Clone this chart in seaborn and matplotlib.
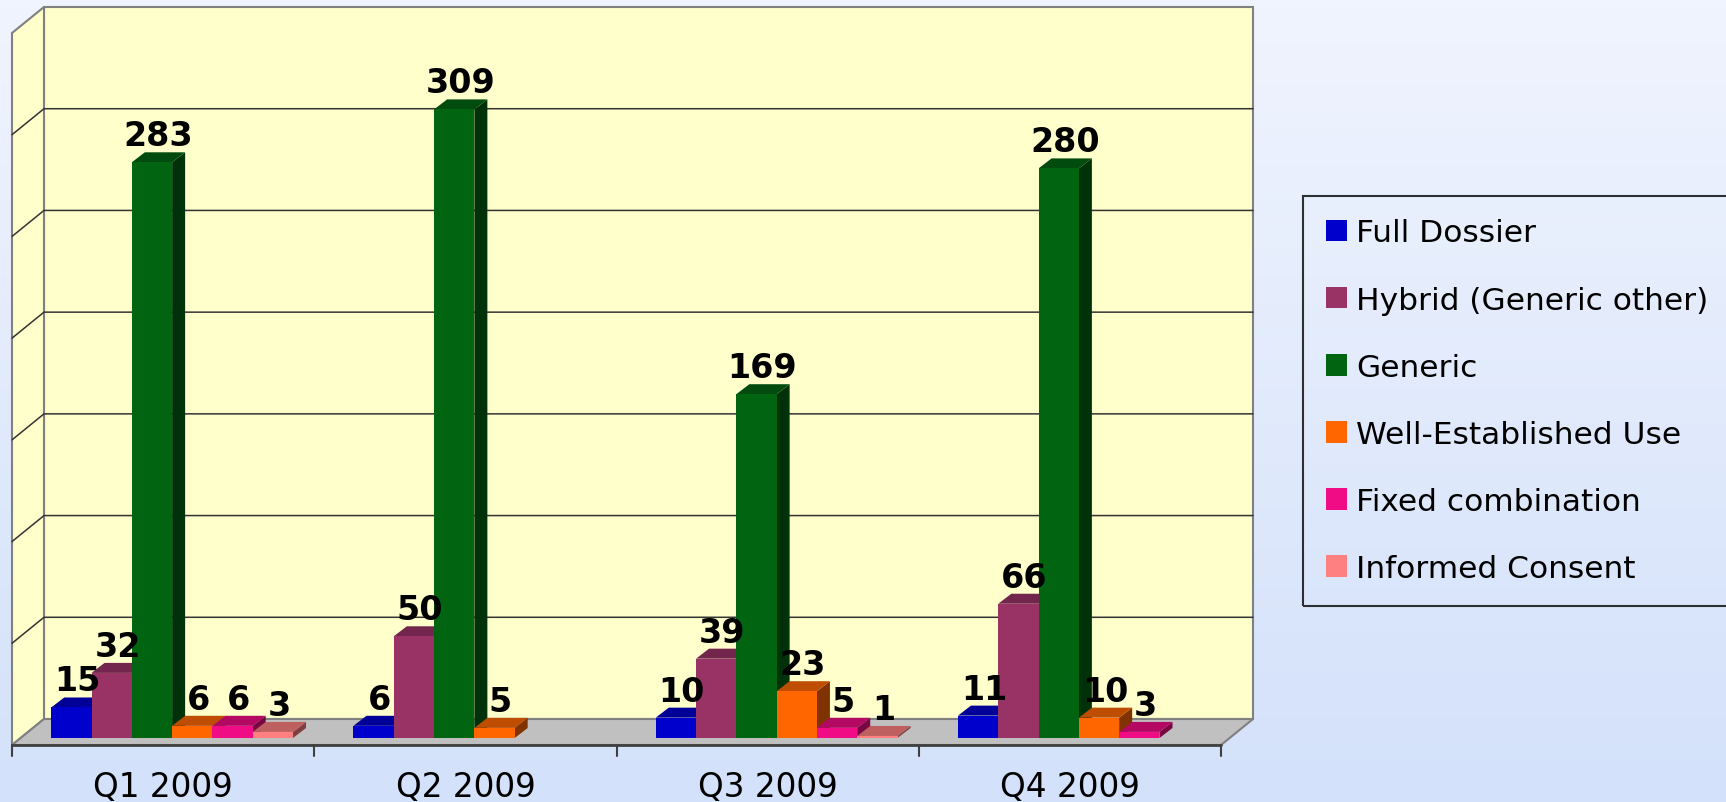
import numpy as np
import pandas as pd
import matplotlib
matplotlib.use("Agg")
import matplotlib.pyplot as plt
import seaborn as sns
from matplotlib.patches import Polygon, Patch
from matplotlib.colors import to_rgb
from matplotlib.transforms import ScaledTranslation

# ---------------- data ----------------
quarters = ["Q1 2009", "Q2 2009", "Q3 2009", "Q4 2009"]
series = ["Full Dossier", "Hybrid (Generic other)", "Generic",
          "Well-Established Use", "Fixed combination", "Informed Consent"]
full_dossier = [15, 6, 10, 11]
hybrid = [32, 50, 39, 66]
generic = [283, 309, 169, 280]
well_established = [6, 5, 23, 10]
fixed_combination = [6, np.nan, 5, 3]
informed_consent = [3, np.nan, 1, np.nan]
colors = ["#0000CC", "#993366", "#006411", "#FF6600", "#F00C84", "#FF8080"]
y_max = 350
grid_step = 50

values = [full_dossier, hybrid, generic, well_established,
          fixed_combination, informed_consent]
rows = []
for s, vals in zip(series, values):
    for q, v in zip(quarters, vals):
        rows.append({"quarter": q, "series": s, "value": v})
df = pd.DataFrame(rows)

# ---------------- figure ----------------
sns.set_theme(style="white")
plt.rcParams['font.family'] = ['DejaVu Sans']
plt.rcParams['text.color'] = 'black'
plt.rcParams['xtick.color'] = 'black'
plt.rcParams['axes.labelcolor'] = 'black'

FW, FH, DPI = 1726, 803, 100
fig = plt.figure(figsize=(FW / DPI, FH / DPI), dpi=DPI)

# background gradient
bg = fig.add_axes([0, 0, 1, 1], zorder=-10)
grad = np.linspace(0, 1, 256)[:, None, None]
c_top = np.array(to_rgb("#F0F4FE"))[None, None, :]
c_bot = np.array(to_rgb("#D3E1FA"))[None, None, :]
img = c_top * (1 - grad) + c_bot * grad
bg.imshow(img, aspect="auto", extent=[0, 1, 0, 1])
bg.set_xlim(0, 1)
bg.set_ylim(0, 1)
bg.axis("off")

# main axes = plane of the bar fronts
ax = fig.add_axes([21 / FW, 64 / FH, 1209 / FW, 712 / FH])
ax.patch.set_alpha(0)
sns.barplot(data=df, x="quarter", y="value", hue="series",
            order=quarters, hue_order=series, palette=colors,
            errorbar=None, width=0.8, saturation=1, ax=ax,
            legend=False, linewidth=0, edgecolor="none")
ax.set_xlim(-0.5, len(quarters) - 0.5)
ax.set_ylim(0, y_max)
for sp in ax.spines.values():
    sp.set_visible(False)
ax.set_yticks([])
ax.set_xlabel("")
ax.set_ylabel("")

bars = [p for p in ax.patches
        if np.isfinite(p.get_height()) and p.get_height() > 0]
bars.sort(key=lambda p: p.get_x())


def d(px, py):
    """pixel offset -> data offset"""
    o = ax.transData.transform((0, 0))
    x, y = ax.transData.inverted().transform(o + np.array([px, py]))
    return x, y


bx, by = d(23, 19)     # back wall depth
fx, fy = d(-9, -7)     # front floor edge
tx, ty = d(13, 10)     # bar depth
x0, x1 = -0.5, len(quarters) - 0.5

# back wall
ax.add_patch(Polygon([(x0 + bx, by), (x1 + bx, by), (x1 + bx, y_max + by),
                      (x0 + bx, y_max + by)], closed=True, fc="#FFFFCC",
                     ec="#808080", lw=1.5, zorder=0.5, clip_on=False))
# left wall
ax.add_patch(Polygon([(x0 + fx, fy), (x0 + bx, by), (x0 + bx, y_max + by),
                      (x0 + fx, y_max + fy)], closed=True, fc="#FFFFCC",
                     ec="#808080", lw=1.5, zorder=0.6, clip_on=False))
# floor
ax.add_patch(Polygon([(x0 + fx, fy), (x1 + fx, fy), (x1 + bx, by),
                      (x0 + bx, by)], closed=True, fc="#C0C0C0",
                     ec="#808080", lw=1.5, zorder=0.7, clip_on=False))
# gridlines
for v in range(grid_step, y_max, grid_step):
    ax.plot([x0 + fx, x0 + bx, x1 + bx], [v + fy, v + by, v + by],
            color="#333333", lw=1.1, zorder=0.8, clip_on=False)
# category axis line and ticks
ax.plot([x0 + fx, x1 + fx], [fy, fy], color="#404040", lw=2,
        zorder=0.9, clip_on=False)
_, tl = d(0, -11)
for b in np.arange(len(quarters) + 1) - 0.5:
    ax.plot([b + fx, b + fx], [fy, fy + tl], color="#404040", lw=1.5,
            zorder=0.9, clip_on=False)

# 3D bars
lx, _ = d(6, 0)
_, ly = d(0, 17)
for i, p in enumerate(bars):
    x, w, h = p.get_x(), p.get_width(), p.get_height()
    c = np.array(p.get_facecolor()[:3])
    z = 2 + i * 0.01
    ax.add_patch(Polygon([(x + w, 0), (x + w + tx, ty), (x + w + tx, h + ty),
                          (x + w, h)], closed=True, fc=c * 0.5, ec="none",
                         zorder=z, clip_on=False))
    ax.add_patch(Polygon([(x, h), (x + w, h), (x + w + tx, h + ty),
                          (x + tx, h + ty)], closed=True, fc=c * 0.75,
                         ec="none", zorder=z + 0.002, clip_on=False))
    p.set_zorder(z + 0.004)
    p.set_clip_on(False)
    ax.text(x + w / 2 + lx, h + ly, f"{int(round(h))}", ha="center",
            va="baseline", fontsize=24, fontweight="bold", color="black",
            zorder=10)

# category tick labels, shifted onto the front edge
ax.set_xticks(range(len(quarters)))
ax.set_xticklabels(quarters, fontsize=23.5, color="black")
ax.tick_params(axis="x", length=0, pad=23)
shift = ScaledTranslation(-9 / DPI, 0, fig.dpi_scale_trans)
for lab in ax.get_xticklabels():
    lab.set_transform(lab.get_transform() + shift)

# legend
handles = [Patch(facecolor=c, edgecolor="none") for c in colors]
leg = fig.legend(handles, series, loc="upper left",
                 bbox_to_anchor=(1303 / FW, (FH - 603) / FH, 0.3, 406 / FH),
                 mode="expand", borderaxespad=0, fontsize=22.5,
                 handlelength=0.68, handleheight=0.68, handletextpad=0.3,
                 labelspacing=1.22, borderpad=0.72, fancybox=False,
                 shadow=False, frameon=True, labelcolor="black")
fr = leg.get_frame()
fr.set_facecolor("none")
fr.set_edgecolor("black")
fr.set_linewidth(1.5)

fig.savefig("out.png", dpi=DPI)
